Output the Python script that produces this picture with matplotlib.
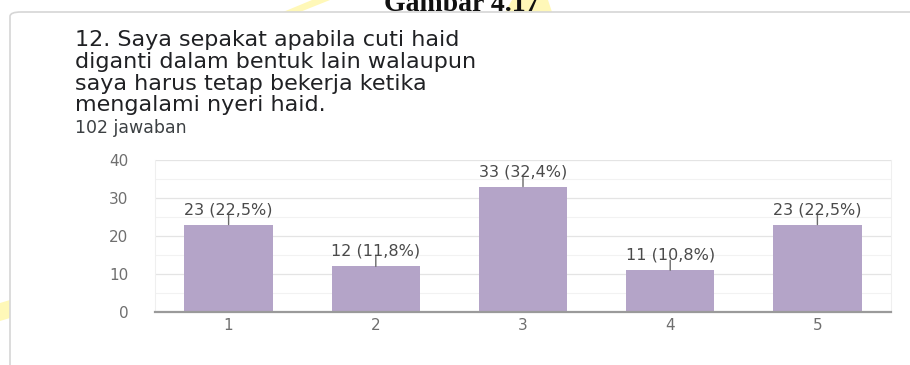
import matplotlib
matplotlib.use("Agg")
import matplotlib.pyplot as plt
from matplotlib.patches import FancyBboxPatch, Polygon
from matplotlib.ticker import MultipleLocator

# Survey answers (scale 1-5), counts and shares
categories = ["1", "2", "3", "4", "5"]
counts = [23, 12, 33, 11, 23]
shares = ["22,5%", "11,8%", "32,4%", "10,8%", "22,5%"]
y_ticks = [0, 10, 20, 30, 40]

question_lines = [
    "12. Saya sepakat apabila cuti haid",
    "diganti dalam bentuk lain walaupun",
    "saya harus tetap bekerja ketika",
    "mengalami nyeri haid.",
]
responses_label = "102 jawaban"
figure_caption = "Gambar 4.17"

W, H = 910, 365
fig = plt.figure(figsize=(W / 100, H / 100), dpi=100)
fig.patch.set_facecolor("white")

def px(x, y):
    """Pixel position (from top-left) to figure fraction."""
    return x / W, 1 - y / H

# faint yellow watermark fragments peeking around the card
wm_color = "#fff8b8"
for pts in (
    [(283, 12), (300, 12), (330, 0), (312, 0)],
    [(505, 12), (552, 12), (548, 0), (512, 0)],
    [(0, 303), (10, 300), (10, 318), (0, 321)],
):
    fig.patches.append(Polygon([px(*p) for p in pts], closed=True,
                               transform=fig.transFigure, facecolor=wm_color,
                               edgecolor="none", zorder=0))

# caption of the document figure, partly above the top edge
x0, y0 = px(462, 11)
fig.text(x0, y0, figure_caption, ha="center", va="baseline",
         family="Liberation Serif", weight="bold", fontsize=20, color="#111111")

# card outline
card = FancyBboxPatch(px(10, 400), (W + 50) / W, 388 / H,
                      boxstyle="round,pad=0,rounding_size=0.012",
                      transform=fig.transFigure, facecolor="white",
                      edgecolor="#d6d6d6", linewidth=1.2, zorder=1)
fig.patches.append(card)

# question text
line_y = [40, 62, 84, 105]
for text, yy in zip(question_lines, line_y):
    fx, fy = px(75, yy)
    fig.text(fx, fy, text, ha="left", va="center", family="DejaVu Sans",
             fontsize=16, color="#202124", zorder=3)
fx, fy = px(75, 128)
fig.text(fx, fy, responses_label, ha="left", va="center", family="DejaVu Sans",
         fontsize=12.5, color="#3c4043", zorder=3)

# chart area
left, right, top, bottom = 155, 891, 160, 312
ax = fig.add_axes([left / W, (H - bottom) / H, (right - left) / W, (bottom - top) / H])
ax.set_zorder(2)
ax.patch.set_alpha(0)

xpos = list(range(len(categories)))
bar_color = "#b4a4c8"
ax.bar(xpos, counts, width=0.6, color=bar_color, zorder=3)

ax.set_xlim(-0.5, len(categories) - 0.5)
ax.set_ylim(0, 40)
ax.set_xticks(xpos)
ax.set_xticklabels(categories)
ax.set_yticks(y_ticks)
ax.yaxis.set_minor_locator(MultipleLocator(5))
ax.grid(axis="y", which="major", color="#e4e4e4", linewidth=0.9, zorder=0)
ax.grid(axis="y", which="minor", color="#f2f2f2", linewidth=0.8, zorder=0)
ax.tick_params(axis="both", which="both", length=0, labelsize=11,
               labelcolor="#6f6f6f")
ax.tick_params(axis="y", pad=19)
ax.tick_params(axis="x", pad=4)
for lbl in ax.get_xticklabels() + ax.get_yticklabels():
    lbl.set_family("DejaVu Sans")

ax.spines["top"].set_visible(False)
ax.spines["bottom"].set_color("#9a9a9a")
ax.spines["bottom"].set_linewidth(1.6)
ax.spines["bottom"].set_zorder(4)
for side in ("left", "right"):
    ax.spines[side].set_color("#efefef")
    ax.spines[side].set_linewidth(0.8)

# value labels with a short leader above each bar
for x, c, s in zip(xpos, counts, shares):
    ax.annotate("", xy=(x, c), xytext=(0, 10), textcoords="offset pixels",
                arrowprops=dict(arrowstyle="-", color="#6a6a6a", lw=1.0,
                                shrinkA=0, shrinkB=0), zorder=4)
    ax.annotate(f"{c} ({s})", xy=(x, c), xytext=(0, 15), textcoords="offset pixels",
                ha="center", va="center", fontsize=11.5, family="DejaVu Sans",
                color="#4a4a4a", zorder=4, annotation_clip=False)

fig.savefig("out.png", dpi=100, facecolor="white")
